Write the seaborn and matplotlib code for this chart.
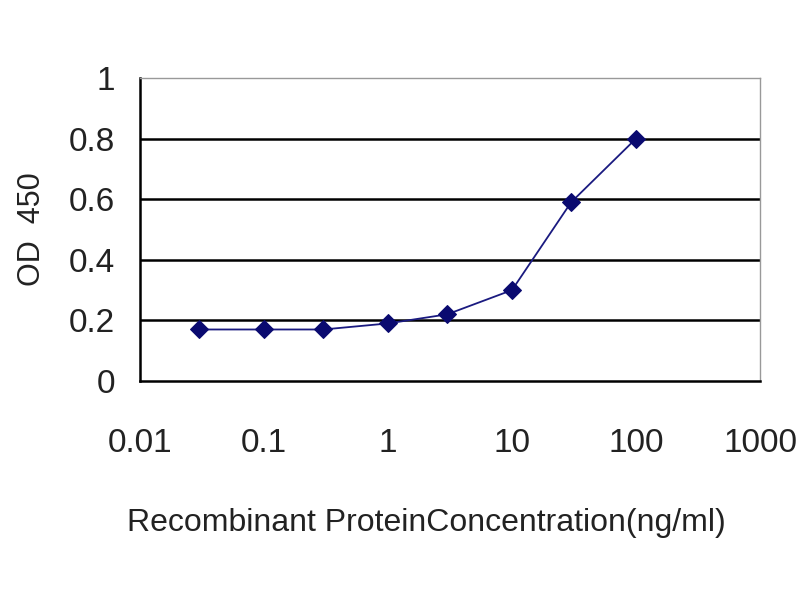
import numpy as np
import pandas as pd
import seaborn as sns
from matplotlib import pyplot as plt

# recombinant protein concentration (ng/ml) vs OD 450
conc = [0.03, 0.1, 0.3, 1, 3, 10, 30, 100]
od = [0.17, 0.17, 0.17, 0.19, 0.22, 0.30, 0.59, 0.80]
x_ticks = [0.01, 0.1, 1, 10, 100, 1000]
x_tick_labels = ['0.01', '0.1', '1', '10', '100', '1000']
y_ticks = [0, 0.2, 0.4, 0.6, 0.8, 1]
y_tick_labels = ['0', '0.2', '0.4', '0.6', '0.8', '1']

df = pd.DataFrame({'conc': conc, 'od': od})

sns.set_style('white')
plt.rcParams['font.family'] = ['Liberation Sans', 'DejaVu Sans']

fig = plt.figure(figsize=(8, 6), dpi=100)
ax = fig.add_axes([0.175, 0.365, 0.775, 0.505])

for yv in [0.2, 0.4, 0.6, 0.8]:
    ax.axhline(yv, color='black', linewidth=1.8, zorder=1)

sns.lineplot(data=df, x='conc', y='od', ax=ax, color='#1a1a80', linewidth=1.3,
             marker='D', markersize=9, markeredgecolor='#0a0a70',
             markerfacecolor='#0a0a70', zorder=3)

ax.set_xscale('log')
ax.set_xlim(0.01, 1000)
ax.set_ylim(0, 1)
ax.set_xticks(x_ticks)
ax.set_xticklabels(x_tick_labels)
ax.minorticks_off()
ax.set_yticks(y_ticks)
ax.set_yticklabels(y_tick_labels)

ax.tick_params(axis='x', direction='in', length=7, width=1.5, pad=34,
               labelsize=24, colors='black', labelcolor='#222222')
ax.tick_params(axis='y', direction='out', length=4, width=1.5, pad=14,
               labelsize=24, colors='black', labelcolor='#222222')

for side in ['left', 'bottom']:
    ax.spines[side].set_color('black')
    ax.spines[side].set_linewidth(1.8)
for side in ['top', 'right']:
    ax.spines[side].set_color('#999999')
    ax.spines[side].set_linewidth(1.0)

ax.set_xlabel('Recombinant ProteinConcentration(ng/ml)', fontsize=23,
              color='#222222', labelpad=38)
ax.xaxis.set_label_coords(0.462, -0.42)
ax.set_ylabel('OD  450', fontsize=22, color='#222222', labelpad=16)

plt.savefig('out.png', dpi=100)
